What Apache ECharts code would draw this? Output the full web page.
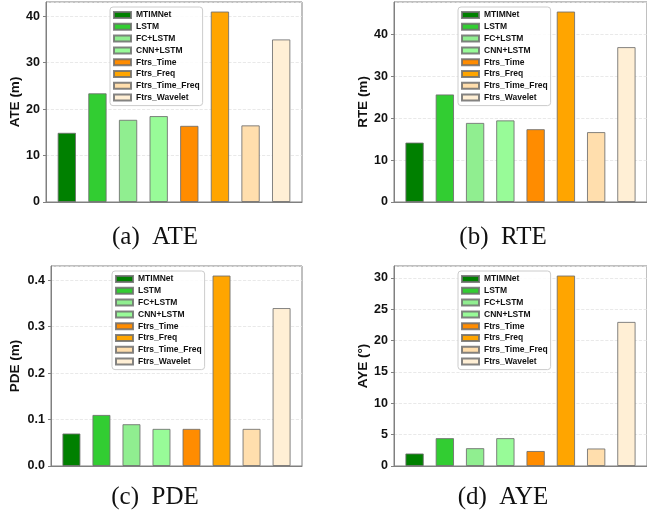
<!DOCTYPE html>
<html>
<head>
<meta charset="utf-8">
<script src="https://cdn.jsdelivr.net/npm/echarts@6/dist/echarts.min.js"></script>
<style>
html,body{margin:0;padding:0;background:#fff;}
#chart{width:647px;height:516px;}
</style>
</head>
<body>
<div id="chart"></div>
<script>
// ---- data ----
const categories = ['MTIMNet','LSTM','FC+LSTM','CNN+LSTM','Ftrs_Time','Ftrs_Freq','Ftrs_Time_Freq','Ftrs_Wavelet'];
const colors = ['#008000','#32CD32','#90EE90','#98FB98','#FF8C00','#FFA500','#FFDEAD','#FFEFD5'];
const ateValues = [14.9, 23.4, 17.7, 18.5, 16.4, 41.0, 16.5, 35.0];
const rteValues = [14.2, 25.7, 18.9, 19.5, 17.4, 45.5, 16.7, 37.0];
const pdeValues = [0.07, 0.11, 0.09, 0.08, 0.08, 0.41, 0.08, 0.34];
const ayeValues = [2.0, 4.45, 2.85, 4.45, 2.4, 30.4, 2.8, 23.0];
const yNames = ['ATE (m)', 'RTE (m)', 'PDE (m)', 'AYE (°)'];
const yIntervals = [10, 10, 0.1, 5];
const captions = ['(a)\u2002ATE', '(b)\u2002RTE', '(c)\u2002PDE', '(d)\u2002AYE'];

// ---- layout ----
const panels = [
  {values: ateValues, grid: {left: 46, top: 2, width: 256, height: 200}, legend: {left: 110, top: 7}, nameGap: 24, cap: [155, 237]},
  {values: rteValues, grid: {left: 394, top: 2, width: 256, height: 200}, legend: {left: 458, top: 7}, nameGap: 24, cap: [503, 237]},
  {values: pdeValues, grid: {left: 51, top: 266, width: 251, height: 200}, legend: {left: 112, top: 271}, nameGap: 29, cap: [155, 497]},
  {values: ayeValues, grid: {left: 394, top: 266, width: 256, height: 200}, legend: {left: 458, top: 271}, nameGap: 24, cap: [503, 497]}
];
const XMIN = -0.68, XMAX = 7.68;
const FONT = 'Liberation Sans, Arial, sans-serif';

const grids = [], xAxes = [], yAxes = [], legends = [], series = [], graphics = [];
panels.forEach((p, pi) => {
  grids.push(Object.assign({show: true, borderColor: '#808080', borderWidth: 1, backgroundColor: '#fff', containLabel: false}, p.grid));
  xAxes.push({
    type: 'value', gridIndex: pi, min: XMIN, max: XMAX,
    axisLine: {show: true, onZero: false, lineStyle: {color: '#808080', width: 1}},
    axisTick: {show: false}, axisLabel: {show: false}, splitLine: {show: false}
  });
  const dec = yIntervals[pi] < 1 ? 1 : 0;
  yAxes.push({
    type: 'value', gridIndex: pi, min: 0,
    max: v => v.max * 1.05,
    interval: yIntervals[pi],
    name: yNames[pi], nameLocation: 'middle', nameRotate: 90, nameGap: p.nameGap,
    nameTextStyle: {fontFamily: FONT, fontWeight: 'bold', fontSize: 13.5, color: '#111'},
    axisLine: {show: true, onZero: false, lineStyle: {color: '#808080', width: 1}},
    axisTick: {show: true, length: 3, lineStyle: {color: '#808080'}},
    axisLabel: {showMaxLabel: false, margin: 6, fontFamily: FONT, fontWeight: 'bold', fontSize: 12.5, color: '#111',
      formatter: v => v.toFixed(dec)},
    splitLine: {show: true, lineStyle: {color: '#e3e3e3', type: 'dashed', width: 0.8}}
  });
  legends.push({
    orient: 'vertical', left: p.legend.left, top: p.legend.top,
    data: categories.slice(),
    icon: 'rect',
    itemWidth: 17, itemHeight: 6, itemGap: 1.8,
    padding: [3, 3, 3, 3],
    backgroundColor: 'rgba(255,255,255,0.85)', borderColor: '#cccccc', borderWidth: 1, borderRadius: 3,
    textStyle: {fontFamily: FONT, fontWeight: 'bold', fontSize: 8.5, lineHeight: 10, color: '#111'},
    selectedMode: false
  });
  const barW = 0.6 * p.grid.width / (XMAX - XMIN);
  categories.forEach((c, i) => {
    series.push({
      type: 'bar', name: c, xAxisIndex: pi, yAxisIndex: pi,
      data: [[i, p.values[i]]],
      barWidth: barW, barGap: '-100%',
      itemStyle: {color: colors[i], borderColor: 'rgba(110,110,110,0.85)', borderWidth: 1},
      emphasis: {disabled: true}
    });
  });
  graphics.push({
    type: 'text', x: p.cap[0], y: p.cap[1],
    style: {text: captions[pi], font: '25px "Liberation Serif", "Times New Roman", serif', fill: '#111', align: 'center', verticalAlign: 'middle'}
  });
});

const chart = echarts.init(document.getElementById('chart'), null, {renderer: 'canvas'});
chart.setOption({
  animation: false,
  backgroundColor: '#fff',
  grid: grids, xAxis: xAxes, yAxis: yAxes, legend: legends, series: series,
  graphic: graphics
});
</script>
</body>
</html>
